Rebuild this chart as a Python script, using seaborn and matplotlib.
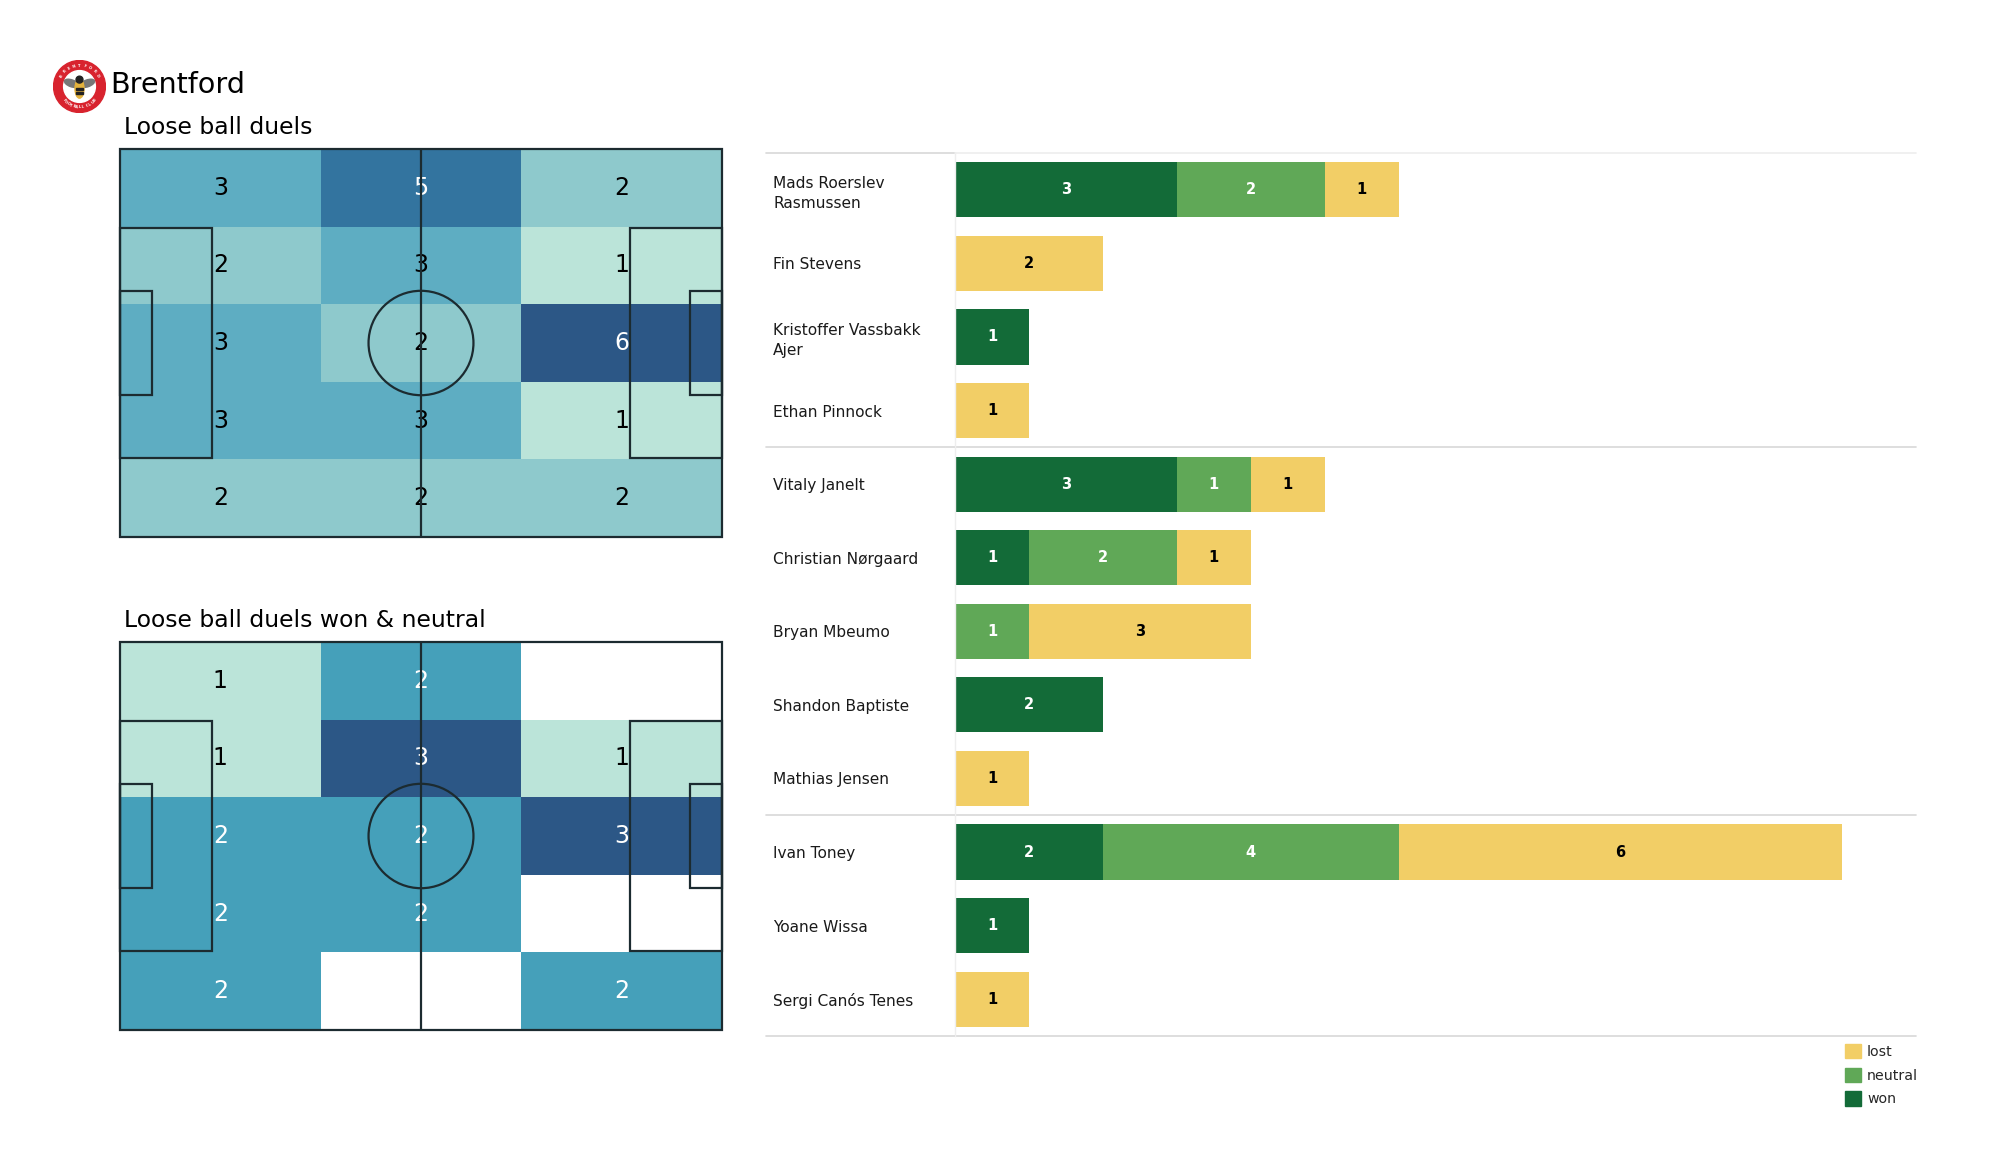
import numpy as np
import pandas as pd
import matplotlib
matplotlib.use("Agg")
import matplotlib.pyplot as plt
from matplotlib.colors import LinearSegmentedColormap
from matplotlib.patches import Circle, Ellipse, Patch, Rectangle
import seaborn as sns

# heatmap counts, top row first
all_duels = [[3, 5, 2], [2, 3, 1], [3, 2, 6], [3, 3, 1], [2, 2, 2]]
won_neutral_duels = [[1, 2, 0], [1, 3, 1], [2, 2, 3], [2, 2, 0], [2, 0, 2]]

players = ["Mads Roerslev\nRasmussen", "Fin Stevens", "Kristoffer Vassbakk\nAjer", "Ethan Pinnock",
           "Vitaly Janelt", "Christian Nørgaard", "Bryan Mbeumo", "Shandon Baptiste", "Mathias Jensen",
           "Ivan Toney", "Yoane Wissa", "Sergi Canós Tenes"]
won = [3, 0, 1, 0, 3, 1, 0, 2, 0, 2, 1, 0]
neutral = [2, 0, 0, 0, 1, 2, 1, 0, 0, 4, 0, 0]
lost = [1, 2, 0, 1, 1, 1, 3, 0, 1, 6, 0, 1]

W, H = 2000, 1175
DARK = "#1c2b30"
heat_cmap = LinearSegmentedColormap.from_list(
    "duels", [(0, "#BBE4D9"), (0.2, "#8EC9CC"), (0.4, "#5EADC2"), (0.5, "#45A0BA"), (0.8, "#33749F"), (1, "#2C5786")])

sns.set_theme(style="white")
plt.rcParams["font.family"] = "DejaVu Sans"
fig = plt.figure(figsize=(20, 11.75), dpi=100)


def box(x0, y0, x1, y1):
    # pixel box (top-left origin) to figure fractions
    return [x0 / W, 1 - y1 / H, (x1 - x0) / W, (y1 - y0) / H]


def draw_pitch(ax):
    # 105 x 68 m pitch on a see-through axes over the heatmap
    ax.set_xlim(0, 105)
    ax.set_ylim(0, 68)
    ax.axis("off")
    ax.patch.set_alpha(0)
    kw = dict(fill=False, ec=DARK, lw=1.6, clip_on=False)
    ax.add_patch(Rectangle((0, 0), 105, 68, **kw))
    ax.add_patch(Rectangle((0, 13.84), 16, 40.32, **kw))
    ax.add_patch(Rectangle((89, 13.84), 16, 40.32, **kw))
    ax.add_patch(Rectangle((0, 24.84), 5.5, 18.32, **kw))
    ax.add_patch(Rectangle((99.5, 24.84), 5.5, 18.32, **kw))
    ax.add_patch(Ellipse((52.5, 34), 18.3, 18.3, **kw))
    ax.plot([52.5, 52.5], [0, 68], color=DARK, lw=1.6)


def draw_heat(values, top, title):
    arr = np.array(values)
    rect = box(120, top, 722, top + 388)
    ax = fig.add_axes(rect)
    sns.heatmap(arr, mask=arr == 0, cmap=heat_cmap, vmin=1, vmax=arr.max(), annot=True,
                annot_kws={"fontsize": 17}, cbar=False, xticklabels=False, yticklabels=False,
                ax=ax)
    shown = arr[arr > 0]
    for txt, v in zip(ax.texts, shown):
        txt.set_color("white" if (v - 1) / (arr.max() - 1) >= 0.5 else "black")
    fig.text(124 / W, 1 - (top - 10) / H, title, fontsize=16.9, color="black", va="bottom")
    draw_pitch(fig.add_axes(rect))


draw_heat(all_duels, 149, "Loose ball duels")
draw_heat(won_neutral_duels, 642, "Loose ball duels won & neutral")

# title and badge
fig.text(110 / W, 1 - 85 / H, "Brentford", fontsize=20.6, color="black", va="center")
badge = fig.add_axes(box(53, 60, 106, 113))
badge.set_xlim(-1, 1)
badge.set_ylim(-1, 1)
badge.axis("off")
badge.add_patch(Circle((0, 0), 0.98, color="#D8232E"))
badge.add_patch(Circle((0, 0), 0.60, color="white"))
badge.add_patch(Ellipse((-0.3, 0.12), 0.56, 0.26, angle=-20, color="#777777"))
badge.add_patch(Ellipse((0.3, 0.12), 0.56, 0.26, angle=20, color="#777777"))
badge.add_patch(Ellipse((0, -0.08), 0.34, 0.72, color="#E3B23C"))
badge.add_patch(Circle((0, 0.26), 0.13, color="#222222"))
badge.add_patch(Rectangle((-0.15, -0.12), 0.3, 0.08, color="#222222"))
badge.add_patch(Rectangle((-0.13, -0.3), 0.26, 0.08, color="#222222"))
# ring lettering, one character at a time
for word, start, step, flip in [("BRENTFORD", 150, -15, False), ("FOOTBALL CLUB", 222, 8, True)]:
    for i, ch in enumerate(word):
        ang = np.radians(start + i * step)
        rot = np.degrees(ang) + (90 if flip else -90)
        badge.text(0.79 * np.cos(ang), 0.79 * np.sin(ang), ch, fontsize=2.6, color="white",
                   ha="center", va="center", rotation=rot, fontweight="bold")

# stacked bars
df = pd.DataFrame({"player": players, "won": won, "neutral": neutral, "lost": lost})
colors = {"won": "#136B38", "neutral": "#60A857", "lost": "#F2CE66"}
text_colors = {"won": "white", "neutral": "white", "lost": "black"}

ax = fig.add_axes(box(955, 153, 1916, 1036))
left = np.zeros(len(df))
for outcome in ["won", "neutral", "lost"]:
    sns.barplot(data=df, y="player", x=outcome, order=players, left=left, color=colors[outcome],
                saturation=1, width=0.75, orient="h", linewidth=0, ax=ax)
    labels = [str(v) if v > 0 else "" for v in df[outcome]]
    ax.bar_label(ax.containers[-1], labels=labels, label_type="center", fontsize=10.5,
                 fontweight="bold", color=text_colors[outcome])
    left = left + df[outcome].to_numpy()

ax.set_xlim(0, 13)
ax.set_ylim(11.5, -0.5)
ax.set_xlabel("")
ax.set_ylabel("")
ax.set_xticks([])
ax.tick_params(axis="y", length=0, pad=131, labelsize=11.1, labelcolor="#1a1a1a")
for lab in ax.get_yticklabels():
    lab.set_ha("left")
    lab.set_linespacing(1.4)
sns.despine(ax=ax, top=True, right=True, bottom=True)
ax.spines["left"].set_color("#eeeeee")
ax.spines["left"].set_linewidth(1)
for y in [-0.5, 3.5, 8.5, 11.5]:
    ax.plot([-0.197, 0], [y, y], transform=ax.get_yaxis_transform(), color="#d8d8d8", lw=1.2, clip_on=False)
    ax.plot([0, 1], [y, y], transform=ax.get_yaxis_transform(), color="#eeeeee" if y < 0 else "#d8d8d8",
            lw=1.2, clip_on=False)

handles = [Patch(color=colors[k], label=k) for k in ["lost", "neutral", "won"]]
ax.legend(handles=handles, loc="upper right", bbox_to_anchor=(1918 / W, 1 - 1044 / H),
          bbox_transform=fig.transFigure, frameon=False, fontsize=10.2, handlelength=1.17,
          handleheight=1.17, handletextpad=0.4, labelspacing=0.62, borderpad=0, borderaxespad=0)

fig.savefig("out.png", dpi=100, facecolor="white")
